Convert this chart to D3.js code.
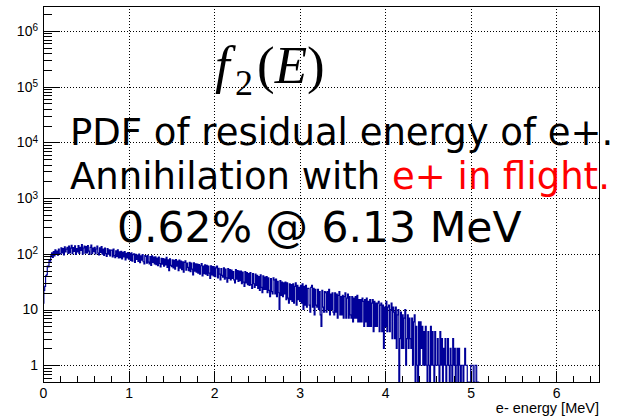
<!DOCTYPE html>
<html>
<head>
<meta charset="utf-8">
<script src="https://cdn.jsdelivr.net/npm/d3@7"></script>
<style>
body { margin: 0; background: #fff; }
svg { display: block; }
</style>
</head>
<body>
<svg></svg>
<script>
// histogram: counts per 0.01 MeV bin, starting at 0 MeV (one row = 0.1 MeV)
var binWidth = 0.01;
var counts = [
  13, 22, 26, 40, 42, 60, 58, 78, 74, 92,
  104, 86, 110, 92, 118, 98, 112, 95, 121, 101,
  100, 128, 104, 124, 96, 133, 108, 121, 131, 102,
  137, 104, 126, 142, 101, 129, 110, 139, 98, 124,
  108, 141, 102, 131, 115, 146, 99, 127, 138, 103,
  135, 104, 140, 112, 98, 130, 143, 101, 126, 109,
  131, 100, 122, 137, 103, 96, 128, 106, 134, 99,
  122, 94, 127, 101, 90, 124, 99, 118, 92, 117,
  116, 88, 121, 93, 85, 113, 90, 118, 84, 108,
  85, 111, 81, 106, 88, 109, 78, 102, 84, 105,
  80, 101, 76, 104, 74, 97, 100, 70, 98, 79,
  95, 73, 99, 69, 92, 77, 97, 72, 66, 93,
  90, 68, 94, 71, 66, 89, 62, 92, 70, 87,
  66, 88, 64, 84, 61, 87, 67, 58, 83, 65,
  82, 60, 80, 63, 86, 57, 78, 50, 81, 62,
  59, 78, 56, 76, 53, 79, 60, 74, 50, 77,
  55, 74, 52, 72, 47, 70, 75, 51, 68, 57,
  50, 70, 48, 68, 53, 42, 69, 49, 66, 47,
  65, 45, 64, 43, 61, 67, 40, 60, 44, 63,
  43, 62, 41, 60, 45, 36, 61, 42, 59, 40,
  58, 39, 56, 60, 37, 55, 43, 34, 54, 41,
  38, 56, 35, 53, 37, 31, 54, 36, 52, 34,
  51, 36, 48, 34, 30, 52, 35, 50, 32, 49,
  33, 49, 29, 47, 31, 26, 48, 30, 46, 28,
  44, 27, 46, 28, 24, 44, 29, 25, 43, 27,
  41, 24, 39, 22, 42, 25, 20, 40, 23, 38,
  23, 39, 20, 37, 22, 17, 36, 21, 19, 37,
  34, 19, 35, 17, 32, 20, 10, 33, 18, 31,
  17, 30, 19, 31, 15, 30, 16, 13, 29, 15,
  28, 14, 29, 13, 26, 30, 12, 27, 15, 25,
  14, 27, 13, 29, 10, 26, 12, 27, 11, 24,
  24, 12, 9, 25, 27, 11, 24, 8, 23, 12,
  11, 23, 10, 21, 8, 5, 22, 11, 9, 21,
  20, 9, 21, 10, 23, 8, 19, 10, 20, 9,
  8, 20, 9, 19, 7, 18, 21, 8, 17, 8,
  18, 7, 17, 20, 7, 16, 19, 7, 17, 8,
  7, 17, 6, 16, 7, 17, 7, 18, 6, 15,
  6, 15, 6, 16, 14, 5, 15, 6, 16, 5,
  14, 5, 15, 5, 13, 15, 4, 14, 5, 13,
  5, 13, 14, 4, 12, 13, 4, 12, 2, 11,
  5, 14, 4, 11, 12, 4, 10, 13, 3, 11,
  9, 3, 11, 2, 8, 10, 0, 3, 9, 2,
  8, 2, 7, 10, 1, 3, 8, 2, 7, 3,
  2, 7, 1, 6, 8, 0, 5, 1, 0, 6,
  1, 6, 2, 5, 1, 4, 1, 5, 1, 0,
  4, 1, 0, 5, 1, 4, 1, 0, 4, 1,
  1, 3, 1, 0, 4, 1, 3, 0, 2, 1,
  3, 0, 1, 3, 1, 0, 2, 1, 0, 3,
  1, 2, 0, 1, 2, 0, 2, 1, 0, 1,
  1, 0, 1, 2, 1, 1, 0, 0, 0, 0,
  1, 1, 1, 0, 0, 1, 1, 0, 0, 0
];

var xTicks = [0, 1, 2, 3, 4, 5, 6];
var yTicks = [1, 10, 100, 1e3, 1e4, 1e5, 1e6];
var yTickLabels = [["1", ""], ["10", ""], ["10", "2"], ["10", "3"], ["10", "4"], ["10", "5"], ["10", "6"]];
var xTitle = "e- energy [MeV]";
var textLines = ["PDF of residual energy of e+.", "Annihilation with ", "e+ in flight.", "0.62% @ 6.13 MeV"];

var width = 622, height = 416;
var padL = 43, padR = 599, padT = 6, padB = 382; // 枠の位置
var labelFont = "Liberation Sans, Arial, sans-serif";

var svg = d3.select("svg").attr("width", width).attr("height", height);

var x = d3.scaleLinear().domain([0, 6.5]).range([padL, padR]);
var y = d3.scaleLog().domain([0.5, 2.8e6]).range([padB, padT]);

// minor ticks: 2..9 x each decade, and every 0.2 MeV
var yMinor = [];
[0.1, 1, 10, 100, 1e3, 1e4, 1e5, 1e6].forEach(function(d) {
  for (var k = 2; k <= 9; k++) {
    var v = d * k;
    if (v >= 0.5 && v <= 2.8e6) yMinor.push(v);
  }
});
var xMinor = d3.range(0, 33).map(function(i) { return i * 0.2; }).filter(function(v) { return v <= 6.5; });

// grid
svg.append("g")
  .selectAll("line")
  .data(yTicks)
  .enter()
  .append("line")
  .attr("x1", padL).attr("x2", padR)
  .attr("y1", d => Math.round(y(d)) + 0.5).attr("y2", d => Math.round(y(d)) + 0.5)
  .attr("stroke", "#000").attr("stroke-dasharray", "1,2");

svg.append("g")
  .selectAll("line")
  .data(xTicks.slice(1))
  .enter()
  .append("line")
  .attr("x1", d => Math.round(x(d)) + 0.5).attr("x2", d => Math.round(x(d)) + 0.5)
  .attr("y1", padT).attr("y2", padB)
  .attr("stroke", "#000").attr("stroke-dasharray", "1,2");

// histogram step line
svg.append("clipPath").attr("id", "plotclip")
  .append("rect").attr("x", padL).attr("y", padT).attr("width", padR - padL).attr("height", padB - padT);

var yv = c => c > 0 ? y(c) : padB;
var pts = counts.map((c, i) => [x(i * binWidth), yv(c)]);
pts.push([x(counts.length * binWidth), yv(counts[counts.length - 1])]);

svg.append("path")
  .attr("clip-path", "url(#plotclip)")
  .attr("d", d3.line().curve(d3.curveStepAfter)(pts))
  .attr("fill", "none")
  .attr("stroke", "#000099")
  .attr("stroke-width", 1.2);

// axes (ticks point inward like ROOT)
var yMinorAxis = svg.append("g")
  .attr("transform", "translate(" + padL + ",0)")
  .call(d3.axisLeft(y).tickValues(yMinor).tickSize(-8.5).tickSizeOuter(0).tickFormat(""));

var yAxis = svg.append("g")
  .attr("transform", "translate(" + padL + ",0)")
  .call(d3.axisLeft(y).tickValues(yTicks).tickSize(-17).tickSizeOuter(0).tickPadding(5));

yAxis.selectAll("text").each(function(d, i) {
  var t = d3.select(this).text(null);
  t.append("tspan").text(yTickLabels[i][0]);
  if (yTickLabels[i][1]) t.append("tspan").attr("dy", "-0.45em").attr("font-size", 10).text(yTickLabels[i][1]);
});

var xMinorAxis = svg.append("g")
  .attr("transform", "translate(0," + padB + ")")
  .call(d3.axisBottom(x).tickValues(xMinor).tickSize(-5.6).tickSizeOuter(0).tickFormat(""));

var xAxis = svg.append("g")
  .attr("transform", "translate(0," + padB + ")")
  .call(d3.axisBottom(x).tickValues(xTicks).tickSize(-11).tickSizeOuter(0).tickPadding(6).tickFormat(d3.format("d")));

[yMinorAxis, yAxis, xMinorAxis, xAxis].forEach(function(g) {
  g.select(".domain").remove();
  g.attr("font-family", labelFont).attr("font-size", 14);
  g.selectAll("line").attr("stroke", "#000").attr("shape-rendering", "crispEdges");
  g.selectAll("text").attr("fill", "#000");
});

// frame
svg.append("rect")
  .attr("x", padL + 0.5).attr("y", padT + 0.5)
  .attr("width", padR - padL).attr("height", padB - padT)
  .attr("fill", "none").attr("stroke", "#000").attr("stroke-width", 1);

// axis title
svg.append("text")
  .attr("x", padR).attr("y", 413)
  .attr("text-anchor", "end")
  .attr("font-family", labelFont)
  .attr("font-size", 14.5)
  .text(xTitle);

// f_2(E)
var ftext = svg.append("text")
  .attr("y", 83)
  .attr("font-family", "Liberation Serif, Times New Roman, serif")
  .attr("font-size", 53);
ftext.append("tspan").attr("x", 215).attr("font-style", "italic").text("f");
ftext.append("tspan").attr("x", 235).attr("dy", 12).attr("font-size", 36).text("2");
ftext.append("tspan").attr("x", 257).attr("dy", -12).text("(");
ftext.append("tspan").attr("font-style", "italic").text("E");
ftext.append("tspan").text(")");

// annotations
var big = svg.append("g").attr("font-family", "DejaVu Sans, sans-serif").attr("fill", "#000");
big.append("text").attr("x", 70).attr("y", 145).attr("font-size", 37).text(textLines[0]);
var l2 = big.append("text").attr("x", 70).attr("y", 189).attr("font-size", 37);
l2.append("tspan").text(textLines[1]);
l2.append("tspan").attr("fill", "#ff0000").text(textLines[2]);
big.append("text").attr("x", 117).attr("y", 242).attr("font-size", 42.5).text(textLines[3]);
</script>
</body>
</html>
